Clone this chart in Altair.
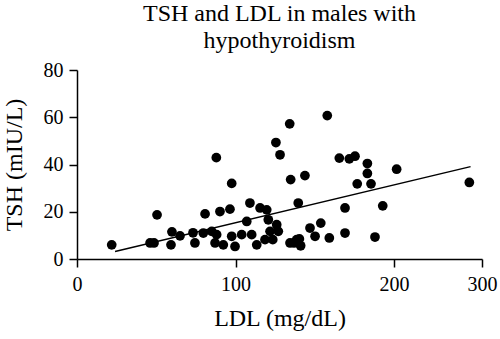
import altair as alt
import pandas as pd

ldl = [21.9, 46.1, 48.6, 50.5, 59.3, 59.9, 65.0, 73.2, 74.4, 79.7,
       80.8, 85.0, 87.9, 88.1, 87.1, 90.2, 92.3, 96.5, 97.6, 97.6,
       99.7, 103.9, 107.1, 109.1, 110.2, 113.4, 115.5, 119.7, 120.7, 118.6,
       126.0, 127.0, 121.8, 123.5, 125.5, 128.1, 134.2, 134.4, 138.6, 139.6,
       134.8, 143.8, 157.9, 141.1, 136.9, 169.1, 192.9, 147.0, 153.8, 150.2,
       159.2, 169.1, 188.0, 140.3, 165.5, 171.8, 175.4, 183.2, 183.2, 185.5,
       176.8, 203.0, 285.6]
tsh = [6.0, 6.8, 6.8, 18.7, 6.0, 11.5, 9.8, 11.1, 6.8, 11.0,
       19.1, 11.7, 42.9, 10.3, 6.8, 20.1, 6.0, 21.1, 32.0, 9.6,
       5.3, 10.3, 15.9, 23.7, 10.3, 6.0, 21.6, 20.8, 16.6, 8.2,
       14.5, 11.7, 11.7, 8.2, 49.3, 44.1, 57.2, 6.8, 8.2, 23.7,
       33.6, 35.3, 60.7, 5.6, 6.8, 21.6, 22.5, 13.1, 15.2, 9.6,
       8.9, 11.0, 9.3, 8.5, 42.7, 42.4, 43.5, 40.4, 36.2, 31.8,
       31.8, 38.0, 32.4]

fit_ldl = [24.0, 287.0]
fit_tsh = [3.2, 39.1]

x_ticks = [0, 100, 200, 300]
y_ticks = [0, 20, 40, 60, 80]

pts = pd.DataFrame({"LDL": ldl, "TSH": tsh})
fit = pd.DataFrame({"LDL": fit_ldl, "TSH": fit_tsh})

FONT = "'Liberation Serif', 'Times New Roman', serif"
W, H = 405, 189

xscale = alt.Scale(domain=[0, 200, 300], range=[0, 317, W], nice=False, zero=False)
yscale = alt.Scale(domain=[0, 80], nice=False)

xaxis = alt.Axis(values=x_ticks, title="LDL (mg/dL)", grid=False, tickSize=8,
                 labelPadding=7, titlePadding=12, format="d", labelFlush=False,
                 labelFont=FONT, titleFont=FONT, labelOverlap=False)
yaxis = alt.Axis(values=y_ticks, title="TSH (mIU/L)", grid=False, tickSize=8,
                 labelPadding=6, titlePadding=17, format="d", labelFlush=False,
                 labelFont=FONT, titleFont=FONT)

points = alt.Chart(pts).mark_circle(size=95, color="black", opacity=1).encode(
    x=alt.X("LDL:Q", scale=xscale, axis=xaxis),
    y=alt.Y("TSH:Q", scale=yscale, axis=yaxis),
)
line = alt.Chart(fit).mark_line(color="black", strokeWidth=1.5).encode(
    x=alt.X("LDL:Q", scale=xscale),
    y=alt.Y("TSH:Q", scale=yscale),
)

chart = alt.layer(points, line).properties(
    width=W, height=H,
    title=alt.TitleParams(["TSH and LDL in males with", "hypothyroidism"],
                          font=FONT, fontSize=24, fontWeight="normal",
                          color="black", anchor="middle", offset=7, lineHeight=27),
    padding={"left": 77, "top": 70, "right": 18, "bottom": 80},
    autosize="none",
).configure(font=FONT).configure_view(stroke=None).configure_axis(
    domainColor="black", domainWidth=1.5, tickColor="black", tickWidth=1.5,
    labelFont=FONT, labelFontSize=20, labelColor="black",
    titleFont=FONT, titleFontSize=24, titleFontWeight="normal", titleColor="black",
)

chart.save("out.html", embed_options={"renderer": "svg", "actions": False})
